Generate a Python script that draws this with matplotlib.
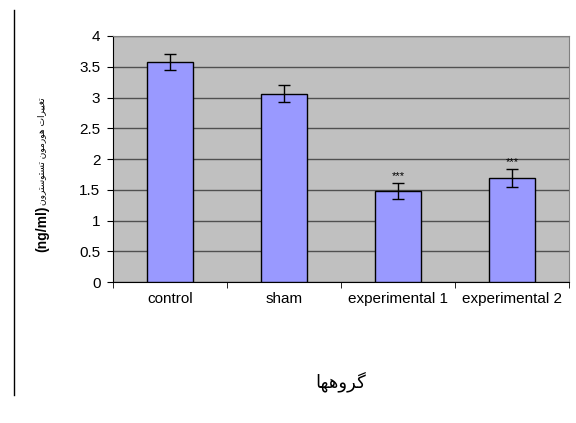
import matplotlib.pyplot as plt
import numpy as np

plt.rcParams['font.family'] = ['Liberation Sans', 'DejaVu Sans']

groups = ['control', 'sham', 'experimental 1', 'experimental 2']
means = [3.57, 3.06, 1.48, 1.69]
errors = [0.13, 0.14, 0.13, 0.15]
marks = ['', '', '***', '***']
yticks = [0, 0.5, 1, 1.5, 2, 2.5, 3, 3.5, 4]
ytick_labels = ['0', '0.5', '1', '1.5', '2', '2.5', '3', '3.5', '4']

# Persian text written with presentation forms in visual order (no shaping in matplotlib)
ylab_fa = ('\uFE97\uFED0\uFEF4\uFEF4\uFEAE\uFE8D\uFE95 '
           '\uFEEB\uFEEE\uFEAD\uFEE3\uFEEE\uFEE5 '
           '\uFE97\uFEB4\uFE98\uFEEE\uFEB3\uFE98\uFEAE\uFEED\uFEE5')
ylab_unit = '(ng/ml)'
xlab_fa = '\uFB94\uFEAE\uFEED\uFEEB\uFEEC\uFE8E'
xlabel = xlab_fa[::-1]

fig = plt.figure(figsize=(5.76, 4.23), dpi=100)
ax = fig.add_axes([0.196, 0.333, 0.792, 0.582])
ax.set_facecolor('#C0C0C0')

x = np.arange(len(groups))
ax.bar(x, means, width=0.4, color='#9999FF', edgecolor='black', linewidth=1, zorder=3)
ax.errorbar(x, means, yerr=errors, fmt='none', ecolor='black', elinewidth=1,
            capsize=4, capthick=1, zorder=4)
for i in range(len(groups)):
    if marks[i]:
        ax.text(x[i], means[i] + errors[i] + 0.03, marks[i], ha='center', va='bottom',
                fontsize=8, zorder=5)

ax.set_xlim(-0.5, 3.5)
ax.set_ylim(0, 4)
ax.set_yticks(yticks)
ax.set_yticklabels(ytick_labels, fontsize=11)
ax.yaxis.grid(True, color='#505050', linewidth=1, zorder=0)
ax.set_axisbelow(True)

ax.set_xticks(x)
ax.set_xticklabels(groups, fontsize=11)
ax.tick_params(axis='x', length=0, pad=7)
ax.set_xticks(np.arange(-0.5, 3.6, 1), minor=True)
ax.tick_params(axis='x', which='minor', length=4, direction='out')
ax.tick_params(axis='y', length=4, direction='out', pad=5)

for s in ['top', 'right']:
    ax.spines[s].set_color('#808080')
for s in ['left', 'bottom']:
    ax.spines[s].set_color('black')

# y label: bold unit below, Persian text above
fig.text(0.073, 0.515, ylab_fa[::-1], rotation=90, ha='center', va='bottom',
         fontsize=6.5, family=['DejaVu Sans'])
fig.text(0.073, 0.515, ylab_unit, rotation=90, ha='center', va='top',
         fontsize=10, fontweight='bold')
fig.text(0.592, 0.097, xlabel, ha='center', va='center', fontsize=13, family=['DejaVu Sans'])

fig.add_artist(plt.Line2D([0.024, 0.024], [0.066, 0.976], color='black', linewidth=1))

plt.savefig('out.png', dpi=100)
